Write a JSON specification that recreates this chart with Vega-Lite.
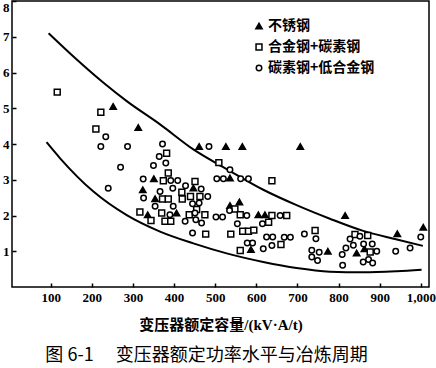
{
  "$schema": "https://vega.github.io/schema/vega-lite/v6.json",
  "width": 417,
  "height": 286,
  "autosize": {"type": "none"},
  "padding": {"left": 12, "top": 1, "right": 7, "bottom": 81},
  "background": "white",
  "config": {
    "view": {"stroke": "black", "strokeWidth": 1.5},
    "axis": {"grid": false, "domain": false, "tickColor": "black", "tickWidth": 1.5, "labelColor": "black", "titleColor": "black"}
  },
  "title": {
    "text": "图 6-1　 变压器额定功率水平与冶炼周期",
    "orient": "bottom",
    "font": "Noto Sans CJK SC",
    "fontSize": 18,
    "fontWeight": "normal",
    "color": "black",
    "offset": 15,
    "dx": -14
  },
  "datasets": {
    "curves": [
      {"c": "upper", "x": 95, "y": 7.1},
      {"c": "upper", "x": 160, "y": 6.4},
      {"c": "upper", "x": 230, "y": 5.7},
      {"c": "upper", "x": 285, "y": 5.2},
      {"c": "upper", "x": 366, "y": 4.55},
      {"c": "upper", "x": 447, "y": 3.85},
      {"c": "upper", "x": 528, "y": 3.3},
      {"c": "upper", "x": 617, "y": 2.72},
      {"c": "upper", "x": 698, "y": 2.29},
      {"c": "upper", "x": 779, "y": 1.91},
      {"c": "upper", "x": 860, "y": 1.57},
      {"c": "upper", "x": 942, "y": 1.33},
      {"c": "upper", "x": 1005, "y": 1.15},
      {"c": "lower", "x": 90, "y": 4.05},
      {"c": "lower", "x": 123, "y": 3.6},
      {"c": "lower", "x": 204, "y": 2.67},
      {"c": "lower", "x": 285, "y": 2.01},
      {"c": "lower", "x": 366, "y": 1.55},
      {"c": "lower", "x": 447, "y": 1.22},
      {"c": "lower", "x": 528, "y": 0.94},
      {"c": "lower", "x": 617, "y": 0.7},
      {"c": "lower", "x": 698, "y": 0.53},
      {"c": "lower", "x": 779, "y": 0.43},
      {"c": "lower", "x": 860, "y": 0.41},
      {"c": "lower", "x": 942, "y": 0.44},
      {"c": "lower", "x": 1002, "y": 0.48}
    ],
    "pts": [
      {"t": "不锈钢", "x": 252, "y": 5.05},
      {"t": "不锈钢", "x": 313, "y": 4.46},
      {"t": "不锈钢", "x": 461, "y": 3.93},
      {"t": "不锈钢", "x": 526, "y": 3.93},
      {"t": "不锈钢", "x": 566, "y": 3.93},
      {"t": "不锈钢", "x": 707, "y": 3.93},
      {"t": "不锈钢", "x": 351, "y": 3.03},
      {"t": "不锈钢", "x": 324, "y": 2.72},
      {"t": "不锈钢", "x": 336, "y": 2.02},
      {"t": "不锈钢", "x": 354, "y": 2.47},
      {"t": "不锈钢", "x": 406, "y": 2.07},
      {"t": "不锈钢", "x": 447, "y": 2.77},
      {"t": "不锈钢", "x": 536, "y": 3.05},
      {"t": "不锈钢", "x": 536, "y": 2.28},
      {"t": "不锈钢", "x": 559, "y": 2.38},
      {"t": "不锈钢", "x": 587, "y": 1.05},
      {"t": "不锈钢", "x": 605, "y": 2.02},
      {"t": "不锈钢", "x": 621, "y": 2.02},
      {"t": "不锈钢", "x": 774, "y": 1.0},
      {"t": "不锈钢", "x": 816, "y": 2.0},
      {"t": "不锈钢", "x": 844, "y": 0.95},
      {"t": "不锈钢", "x": 863, "y": 1.07},
      {"t": "不锈钢", "x": 943, "y": 1.49},
      {"t": "不锈钢", "x": 1006, "y": 1.67},
      {"t": "合金钢+碳素钢", "x": 116, "y": 5.45},
      {"t": "合金钢+碳素钢", "x": 222, "y": 4.89},
      {"t": "合金钢+碳素钢", "x": 210, "y": 4.42},
      {"t": "合金钢+碳素钢", "x": 382, "y": 3.74},
      {"t": "合金钢+碳素钢", "x": 386, "y": 3.19},
      {"t": "合金钢+碳素钢", "x": 374, "y": 2.97},
      {"t": "合金钢+碳素钢", "x": 372, "y": 2.46},
      {"t": "合金钢+碳素钢", "x": 386, "y": 2.46},
      {"t": "合金钢+碳素钢", "x": 317, "y": 2.1},
      {"t": "合金钢+碳素钢", "x": 344, "y": 1.86},
      {"t": "合金钢+碳素钢", "x": 370, "y": 2.07},
      {"t": "合金钢+碳素钢", "x": 378, "y": 1.84},
      {"t": "合金钢+碳素钢", "x": 392, "y": 1.84},
      {"t": "合金钢+碳素钢", "x": 419, "y": 2.65},
      {"t": "合金钢+碳素钢", "x": 420, "y": 2.46},
      {"t": "合金钢+碳素钢", "x": 451, "y": 2.95},
      {"t": "合金钢+碳素钢", "x": 440, "y": 2.53},
      {"t": "合金钢+碳素钢", "x": 463, "y": 2.53},
      {"t": "合金钢+碳素钢", "x": 437, "y": 2.02},
      {"t": "合金钢+碳素钢", "x": 475, "y": 2.02},
      {"t": "合金钢+碳素钢", "x": 477, "y": 1.48},
      {"t": "合金钢+碳素钢", "x": 455, "y": 2.17},
      {"t": "合金钢+碳素钢", "x": 509, "y": 3.48},
      {"t": "合金钢+碳素钢", "x": 548, "y": 2.18},
      {"t": "合金钢+碳素钢", "x": 561, "y": 2.02},
      {"t": "合金钢+碳素钢", "x": 538, "y": 1.48},
      {"t": "合金钢+碳素钢", "x": 567, "y": 1.56},
      {"t": "合金钢+碳素钢", "x": 581, "y": 1.56},
      {"t": "合金钢+碳素钢", "x": 594, "y": 1.59},
      {"t": "合金钢+碳素钢", "x": 561, "y": 1.02},
      {"t": "合金钢+碳素钢", "x": 630, "y": 1.81},
      {"t": "合金钢+碳素钢", "x": 638, "y": 2.97},
      {"t": "合金钢+碳素钢", "x": 638, "y": 2.0},
      {"t": "合金钢+碳素钢", "x": 674, "y": 2.0},
      {"t": "合金钢+碳素钢", "x": 660, "y": 1.19},
      {"t": "合金钢+碳素钢", "x": 743, "y": 1.58},
      {"t": "合金钢+碳素钢", "x": 840, "y": 1.47},
      {"t": "合金钢+碳素钢", "x": 871, "y": 1.44},
      {"t": "合金钢+碳素钢", "x": 877, "y": 0.98},
      {"t": "碳素钢+低合金钢", "x": 234, "y": 4.2},
      {"t": "碳素钢+低合金钢", "x": 222, "y": 3.93},
      {"t": "碳素钢+低合金钢", "x": 287, "y": 3.93},
      {"t": "碳素钢+低合金钢", "x": 270, "y": 3.35},
      {"t": "碳素钢+低合金钢", "x": 240, "y": 2.76},
      {"t": "碳素钢+低合金钢", "x": 372, "y": 4.0},
      {"t": "碳素钢+低合金钢", "x": 364, "y": 3.65},
      {"t": "碳素钢+低合金钢", "x": 350, "y": 3.4},
      {"t": "碳素钢+低合金钢", "x": 380, "y": 3.47},
      {"t": "碳素钢+低合金钢", "x": 325, "y": 3.02},
      {"t": "碳素钢+低合金钢", "x": 392, "y": 2.98},
      {"t": "碳素钢+低合金钢", "x": 409, "y": 2.98},
      {"t": "碳素钢+低合金钢", "x": 366, "y": 2.67},
      {"t": "碳素钢+低合金钢", "x": 397, "y": 2.76},
      {"t": "碳素钢+低合金钢", "x": 326, "y": 2.49},
      {"t": "碳素钢+低合金钢", "x": 354, "y": 2.26},
      {"t": "碳素钢+低合金钢", "x": 398, "y": 2.26},
      {"t": "碳素钢+低合金钢", "x": 390, "y": 2.02},
      {"t": "碳素钢+低合金钢", "x": 428, "y": 2.83},
      {"t": "碳素钢+低合金钢", "x": 445, "y": 2.33},
      {"t": "碳素钢+低合金钢", "x": 466, "y": 2.74},
      {"t": "碳素钢+低合金钢", "x": 461, "y": 2.35},
      {"t": "碳素钢+低合金钢", "x": 482, "y": 2.53},
      {"t": "碳素钢+低合金钢", "x": 427, "y": 1.84},
      {"t": "碳素钢+低合金钢", "x": 451, "y": 2.07},
      {"t": "碳素钢+低合金钢", "x": 453, "y": 1.88},
      {"t": "碳素钢+低合金钢", "x": 467, "y": 1.79},
      {"t": "碳素钢+低合金钢", "x": 445, "y": 1.51},
      {"t": "碳素钢+低合金钢", "x": 502, "y": 1.96},
      {"t": "碳素钢+低合金钢", "x": 518, "y": 1.96},
      {"t": "碳素钢+低合金钢", "x": 485, "y": 3.93},
      {"t": "碳素钢+低合金钢", "x": 536, "y": 3.28},
      {"t": "碳素钢+低合金钢", "x": 504, "y": 3.03},
      {"t": "碳素钢+低合金钢", "x": 520, "y": 3.03},
      {"t": "碳素钢+低合金钢", "x": 562, "y": 3.03},
      {"t": "碳素钢+低合金钢", "x": 581, "y": 3.03},
      {"t": "碳素钢+低合金钢", "x": 535, "y": 2.14},
      {"t": "碳素钢+低合金钢", "x": 577, "y": 2.0},
      {"t": "碳素钢+低合金钢", "x": 554, "y": 1.77},
      {"t": "碳素钢+低合金钢", "x": 578, "y": 1.23},
      {"t": "碳素钢+低合金钢", "x": 591, "y": 1.23},
      {"t": "碳素钢+低合金钢", "x": 617, "y": 1.07},
      {"t": "碳素钢+低合金钢", "x": 615, "y": 1.77},
      {"t": "碳素钢+低合金钢", "x": 658, "y": 2.0},
      {"t": "碳素钢+低合金钢", "x": 625, "y": 1.4},
      {"t": "碳素钢+低合金钢", "x": 640, "y": 1.4},
      {"t": "碳素钢+低合金钢", "x": 638, "y": 1.16},
      {"t": "碳素钢+低合金钢", "x": 668, "y": 1.39},
      {"t": "碳素钢+低合金钢", "x": 683, "y": 1.39},
      {"t": "碳素钢+低合金钢", "x": 717, "y": 1.48},
      {"t": "碳素钢+低合金钢", "x": 745, "y": 1.35},
      {"t": "碳素钢+低合金钢", "x": 735, "y": 1.03},
      {"t": "碳素钢+低合金钢", "x": 735, "y": 0.84},
      {"t": "碳素钢+低合金钢", "x": 753, "y": 0.97},
      {"t": "碳素钢+低合金钢", "x": 749, "y": 0.74},
      {"t": "碳素钢+低合金钢", "x": 809, "y": 0.91},
      {"t": "碳素钢+低合金钢", "x": 818, "y": 1.09},
      {"t": "碳素钢+低合金钢", "x": 810, "y": 0.61},
      {"t": "碳素钢+低合金钢", "x": 828, "y": 1.34},
      {"t": "碳素钢+低合金钢", "x": 836, "y": 1.17},
      {"t": "碳素钢+低合金钢", "x": 852, "y": 1.42},
      {"t": "碳素钢+低合金钢", "x": 861, "y": 1.2},
      {"t": "碳素钢+低合金钢", "x": 882, "y": 1.2},
      {"t": "碳素钢+低合金钢", "x": 893, "y": 1.0},
      {"t": "碳素钢+低合金钢", "x": 860, "y": 0.7},
      {"t": "碳素钢+低合金钢", "x": 873, "y": 0.77},
      {"t": "碳素钢+低合金钢", "x": 883, "y": 0.67},
      {"t": "碳素钢+低合金钢", "x": 939, "y": 1.0},
      {"t": "碳素钢+低合金钢", "x": 974, "y": 1.09},
      {"t": "碳素钢+低合金钢", "x": 1000, "y": 1.4}
    ]
  },
  "layer": [
    {
      "data": {"name": "curves"},
      "mark": {"type": "line", "color": "black", "strokeWidth": 2, "interpolate": "monotone"},
      "encoding": {
        "x": {"field": "x", "type": "quantitative", "scale": {"domain": [6, 1020], "nice": false, "zero": false},
          "axis": {"values": [100, 200, 300, 400, 500, 600, 700, 800, 900, 1000], "tickSize": -4, "labelPadding": 8,
            "labelFont": "Liberation Serif", "labelFontSize": 13, "labelFontWeight": "bold",
            "title": "变压器额定容量/(kV·A/t)", "titleFont": "Liberation Serif, Noto Sans CJK SC", "titleFontSize": 15, "titleFontWeight": "bold", "titlePadding": 13}},
        "y": {"field": "y", "type": "quantitative", "scale": {"domain": [0, 8], "nice": false},
          "axis": {"values": [1, 2, 3, 4, 5, 6, 7, 8], "tickSize": -4, "labelPadding": 7,
            "labelBaseline": {"expr": "datum.value == 8 ? 'top' : 'middle'"},
            "labelFont": "Liberation Serif", "labelFontSize": 13, "labelFontWeight": "bold", "title": null}},
        "detail": {"field": "c"}
      }
    },
    {
      "data": {"name": "pts"},
      "mark": {"type": "point", "filled": false, "stroke": "black", "strokeWidth": 1.5, "opacity": 1},
      "encoding": {
        "x": {"field": "x", "type": "quantitative"},
        "y": {"field": "y", "type": "quantitative"},
        "shape": {"field": "t", "type": "nominal",
          "scale": {"domain": ["不锈钢", "合金钢+碳素钢", "碳素钢+低合金钢"], "range": ["triangle-up", "square", "circle"]},
          "legend": {"orient": "none", "legendX": 240, "legendY": 18, "title": null, "padding": 0,
            "labelFont": "Noto Sans CJK SC", "labelFontSize": 14, "labelFontWeight": "bold", "labelColor": "black",
            "rowPadding": 7, "labelOffset": 2, "symbolStrokeColor": "black"}},
        "fill": {"field": "t", "type": "nominal",
          "scale": {"domain": ["不锈钢", "合金钢+碳素钢", "碳素钢+低合金钢"], "range": ["black", "white", "white"]}},
        "size": {"field": "t", "type": "nominal",
          "scale": {"domain": ["不锈钢", "合金钢+碳素钢", "碳素钢+低合金钢"], "range": [40, 30, 24]}}
      }
    }
  ]
}
